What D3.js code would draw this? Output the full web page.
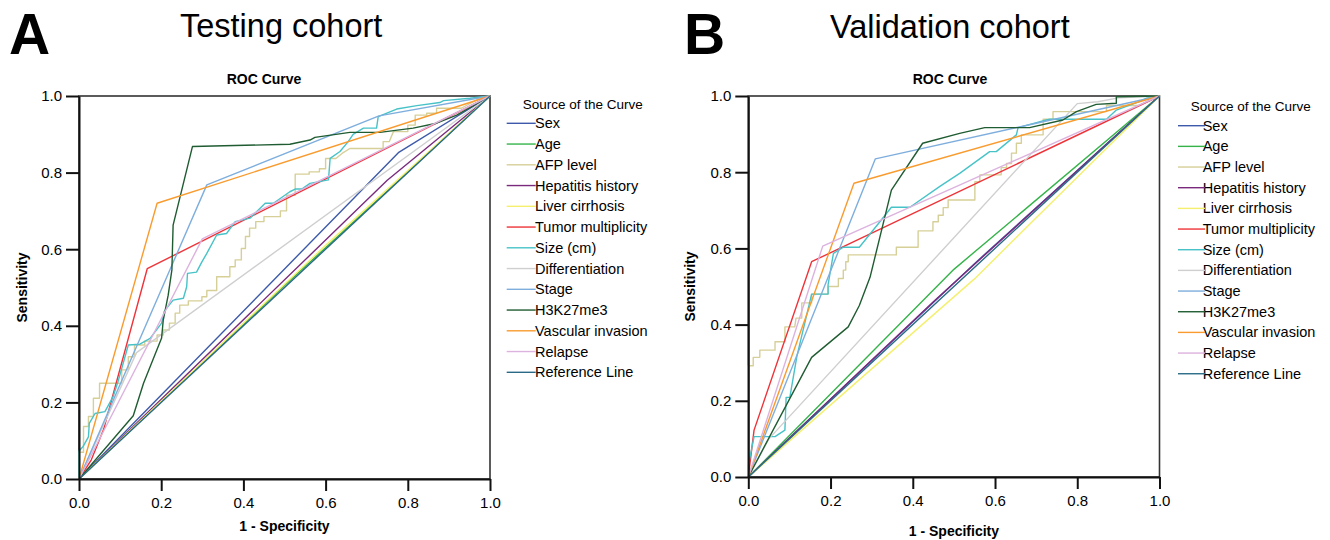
<!DOCTYPE html>
<html>
<head>
<meta charset="utf-8">
<script src="https://cdn.jsdelivr.net/npm/d3@7"></script>
<style>
  body { margin: 0; background: #fff; }
  svg { display: block; font-family: "Liberation Sans", Arial, sans-serif; }
</style>
</head>
<body>
<div id="chart"></div>
<script>
// legend / curve names, same order for both cohorts
const curveNames = ['Sex', 'Age', 'AFP level', 'Hepatitis history', 'Liver cirrhosis',
  'Tumor multiplicity', 'Size (cm)', 'Differentiation', 'Stage', 'H3K27me3',
  'Vascular invasion', 'Relapse', 'Reference Line'];
const curveColors = ['#3d5aaa', '#35b34a', '#d6cf98', '#7a2a7d', '#f4f06e',
  '#ee3339', '#47c3c8', '#cfcfcf', '#7eaedd', '#1f5c32',
  '#f99b2e', '#dcb2de', '#2a6a87'];
const tickValues = [0, 0.2, 0.4, 0.6, 0.8, 1.0];

// ---- testing cohort, [1 - specificity, sensitivity]
const testSex = [[0, 0], [0.777, 0.852], [1, 1]];
const testAge = [[0, 0], [0.5, 0.505], [1, 1]];
const testAfp = [[0, 0], [0, 0.07], [0.011, 0.07], [0.011, 0.137], [0.023, 0.137], [0.023, 0.163],
  [0.035, 0.163], [0.035, 0.211], [0.05, 0.211], [0.05, 0.25], [0.104, 0.25], [0.104, 0.285],
  [0.12, 0.285], [0.12, 0.319], [0.135, 0.319], [0.135, 0.35], [0.16, 0.35], [0.16, 0.36],
  [0.19, 0.36], [0.19, 0.376], [0.205, 0.376], [0.205, 0.389], [0.22, 0.389], [0.22, 0.407],
  [0.234, 0.407], [0.234, 0.433], [0.245, 0.433], [0.245, 0.454], [0.266, 0.454], [0.266, 0.465],
  [0.299, 0.465], [0.299, 0.476], [0.311, 0.476], [0.311, 0.492], [0.335, 0.492], [0.335, 0.528],
  [0.367, 0.528], [0.367, 0.554], [0.38, 0.554], [0.38, 0.572], [0.395, 0.572], [0.395, 0.602],
  [0.405, 0.602], [0.405, 0.633], [0.415, 0.633], [0.415, 0.655], [0.43, 0.655], [0.43, 0.672],
  [0.45, 0.672], [0.45, 0.685], [0.49, 0.685], [0.49, 0.7], [0.505, 0.7], [0.505, 0.741],
  [0.526, 0.741], [0.526, 0.796], [0.56, 0.796], [0.56, 0.802], [0.585, 0.802], [0.585, 0.81],
  [0.6, 0.81], [0.6, 0.837], [0.625, 0.837], [0.64, 0.85], [0.659, 0.863], [0.74, 0.863],
  [0.74, 0.881], [0.755, 0.881], [0.765, 0.907], [0.8, 0.907], [0.8, 0.924], [0.818, 0.924],
  [0.818, 0.95], [0.846, 0.95], [0.846, 0.955], [0.87, 0.955], [0.87, 0.968], [0.93, 0.968],
  [0.968, 0.99], [1, 1]];
const testHepatitis = [[0, 0], [0.75, 0.78], [1, 1]];
const testCirrhosis = [[0, 0], [0.6, 0.61], [1, 1]];
const testMultiplicity = [[0, 0], [0.03, 0.05], [0.06, 0.13], [0.166, 0.549], [1, 1]];
const testSize = [[0, 0], [0, 0.073], [0.01, 0.085], [0.023, 0.11], [0.025, 0.145], [0.039, 0.171],
  [0.063, 0.176], [0.083, 0.215], [0.096, 0.258], [0.12, 0.35], [0.148, 0.352], [0.173, 0.367],
  [0.201, 0.407], [0.207, 0.437], [0.229, 0.467], [0.254, 0.472], [0.262, 0.502], [0.264, 0.537],
  [0.286, 0.54], [0.299, 0.567], [0.311, 0.589], [0.335, 0.637], [0.359, 0.641], [0.38, 0.672],
  [0.416, 0.681], [0.432, 0.698], [0.453, 0.72], [0.473, 0.72], [0.513, 0.75], [0.526, 0.757],
  [0.542, 0.757], [0.562, 0.772], [0.607, 0.781], [0.611, 0.837], [0.635, 0.855], [0.655, 0.881],
  [0.667, 0.9], [0.692, 0.916], [0.724, 0.916], [0.728, 0.946], [0.773, 0.966], [0.822, 0.975],
  [0.878, 0.983], [0.887, 0.988], [0.951, 0.994], [1, 1]];
const testDifferentiation = [[0, 0], [0.14, 0.33], [1, 1]];
const testStage = [[0, 0], [0.311, 0.768], [0.73, 0.948], [1, 1]];
const testH3k27 = [[0, 0], [0.132, 0.165], [0.157, 0.25], [0.201, 0.368], [0.205, 0.415],
  [0.217, 0.48], [0.226, 0.546], [0.229, 0.663], [0.276, 0.868], [0.513, 0.874], [0.562, 0.885],
  [0.574, 0.892], [0.659, 0.905], [0.732, 0.905], [0.813, 0.916], [0.87, 0.929], [0.919, 0.95], [1, 1]];
const testVascular = [[0, 0], [0.19, 0.72], [1, 1]];
const testRelapse = [[0, 0], [0.3, 0.627], [1, 1]];
const testReference = [[0, 0], [1, 1]];

// ---- validation cohort
const valSex = [[0, 0], [0.55, 0.56], [1, 1]];
const valAge = [[0, 0], [0.5, 0.545], [1, 1]];
const valAfp = [[0, 0], [0, 0.292], [0.012, 0.292], [0.012, 0.314], [0.028, 0.314], [0.028, 0.333],
  [0.065, 0.333], [0.065, 0.355], [0.089, 0.355], [0.089, 0.394], [0.113, 0.394], [0.116, 0.417],
  [0.13, 0.417], [0.13, 0.457], [0.154, 0.457], [0.154, 0.48], [0.194, 0.48], [0.194, 0.5],
  [0.219, 0.5], [0.219, 0.521], [0.231, 0.521], [0.231, 0.543], [0.237, 0.543], [0.237, 0.565],
  [0.243, 0.565], [0.243, 0.583], [0.36, 0.583], [0.36, 0.603], [0.413, 0.603], [0.413, 0.646],
  [0.449, 0.646], [0.449, 0.67], [0.462, 0.67], [0.462, 0.687], [0.474, 0.687], [0.474, 0.707],
  [0.486, 0.707], [0.486, 0.727], [0.551, 0.727], [0.551, 0.775], [0.563, 0.775], [0.563, 0.793],
  [0.615, 0.793], [0.615, 0.812], [0.628, 0.812], [0.628, 0.823], [0.64, 0.823], [0.64, 0.85],
  [0.652, 0.85], [0.652, 0.876], [0.664, 0.876], [0.664, 0.898], [0.717, 0.898], [0.717, 0.939],
  [0.741, 0.939], [0.741, 0.959], [0.871, 0.959], [0.871, 0.975], [0.95, 0.975], [1, 1]];
const valHepatitis = [[0, 0], [0.45, 0.46], [1, 1]];
const valCirrhosis = [[0, 0], [0.55, 0.52], [1, 1]];
const valMultiplicity = [[0, 0], [0.014, 0.123], [0.154, 0.565], [1, 1]];
const valSize = [[0, 0], [0, 0.03], [0.014, 0.106], [0.065, 0.106], [0.089, 0.123], [0.092, 0.209],
  [0.101, 0.209], [0.118, 0.316], [0.154, 0.48], [0.194, 0.48], [0.194, 0.504], [0.207, 0.587],
  [0.231, 0.603], [0.27, 0.603], [0.32, 0.67], [0.348, 0.708], [0.393, 0.708], [0.465, 0.762],
  [0.514, 0.797], [0.587, 0.854], [0.603, 0.854], [0.652, 0.898], [0.656, 0.917], [0.725, 0.937],
  [0.733, 0.939], [0.871, 0.939], [0.895, 0.963], [0.951, 0.985], [0.97, 0.995], [1, 1]];
const valDifferentiation = [[0, 0], [0.05, 0.1], [0.8, 0.98], [0.85, 0.985], [0.9, 0.995], [1, 1]];
const valStage = [[0, 0], [0.309, 0.835], [1, 1]];
const valH3k27 = [[0, 0], [0.154, 0.314], [0.243, 0.394], [0.27, 0.45], [0.296, 0.524], [0.348, 0.753],
  [0.424, 0.876], [0.514, 0.902], [0.575, 0.917], [0.684, 0.917], [0.765, 0.937], [0.798, 0.959],
  [0.846, 0.978], [0.895, 0.981], [0.895, 0.998], [1, 1]];
const valVascular = [[0, 0], [0.257, 0.771], [1, 1]];
const valRelapse = [[0, 0], [0.181, 0.606], [1, 1]];
const valReference = [[0, 0], [1, 1]];

const testingCurves = [testSex, testAge, testAfp, testHepatitis, testCirrhosis, testMultiplicity,
  testSize, testDifferentiation, testStage, testH3k27, testVascular, testRelapse, testReference];
const validationCurves = [valSex, valAge, valAfp, valHepatitis, valCirrhosis, valMultiplicity,
  valSize, valDifferentiation, valStage, valH3k27, valVascular, valRelapse, valReference];

const FONT = '"Liberation Sans", Arial, sans-serif';

const panels = [
  { letter: 'A', title: 'Testing cohort', curves: testingCurves,
    left: 79, right: 490, top: 96, bottom: 479,
    letterX: 9, titleX: 180, titleY: 37, rocX: 264, ylabX: 22, xlabY: 531,
    legTitleX: 522.7, legTitleY: 104, legLineX: 506.7, legLineW: 29, legTextX: 535,
    legY0: 123.3, legStep: 20.75 },
  { letter: 'B', title: 'Validation cohort', curves: validationCurves,
    left: 748.3, right: 1159.5, top: 96, bottom: 477,
    letterX: 684, titleX: 830, titleY: 38, rocX: 950, ylabX: 690, xlabY: 536,
    legTitleX: 1190.7, legTitleY: 106, legLineX: 1178, legLineW: 27, legTextX: 1202.7,
    legY0: 125.7, legStep: 20.67 }
];

const svg = d3.select('#chart').append('svg')
  .attr('width', 1330)
  .attr('height', 540);

panels.forEach(p => {
  const x = d3.scaleLinear().domain([0, 1]).range([p.left, p.right]);
  const y = d3.scaleLinear().domain([0, 1]).range([p.bottom, p.top]);
  const g = svg.append('g');

  // big panel letter and cohort title
  g.append('text').attr('x', p.letterX).attr('y', 53.5)
    .attr('font-size', 57).attr('font-weight', 'bold').text(p.letter);
  g.append('text').attr('x', p.titleX).attr('y', p.titleY)
    .attr('font-size', 32.5).text(p.title);
  g.append('text').attr('x', p.rocX).attr('y', 84).attr('text-anchor', 'middle')
    .attr('font-size', 14).attr('font-weight', 'bold').text('ROC Curve');

  // frame
  g.append('rect')
    .attr('x', p.left).attr('y', p.top)
    .attr('width', p.right - p.left).attr('height', p.bottom - p.top)
    .attr('fill', 'none').attr('stroke', '#333').attr('stroke-width', 1.6);

  // curves
  const line = d3.line().x(d => x(d[0])).y(d => y(d[1]));
  g.append('g').selectAll('path')
    .data(p.curves)
    .join('path')
      .attr('d', line)
      .attr('fill', 'none')
      .attr('stroke', (d, i) => curveColors[i])
      .attr('stroke-width', 1.4)
      .attr('stroke-linejoin', 'round');

  // axes
  const yAxis = g.append('g')
    .attr('transform', `translate(${p.left},0)`)
    .call(d3.axisLeft(y).tickValues(tickValues).tickFormat(d3.format('.1f'))
      .tickSize(13).tickSizeOuter(0).tickPadding(4));
  const xAxis = g.append('g')
    .attr('transform', `translate(0,${p.bottom})`)
    .call(d3.axisBottom(x).tickValues(tickValues).tickFormat(d3.format('.1f'))
      .tickSize(12).tickSizeOuter(0).tickPadding(6));
  [yAxis, xAxis].forEach(a => {
    a.attr('font-family', FONT).attr('font-size', 15);
    a.select('.domain').attr('stroke', '#111').attr('stroke-width', 2);
    a.selectAll('.tick line').attr('stroke', '#111').attr('stroke-width', 2);
    a.selectAll('.tick text').attr('fill', '#000');
  });

  // axis titles
  g.append('text')
    .attr('transform', `translate(${p.ylabX},${(p.top + p.bottom) / 2}) rotate(-90)`)
    .attr('text-anchor', 'middle').attr('dy', '0.35em')
    .attr('font-size', 14).attr('font-weight', 'bold').text('Sensitivity');
  g.append('text').attr('x', (p.left + p.right) / 2).attr('y', p.xlabY)
    .attr('text-anchor', 'middle')
    .attr('font-size', 14).attr('font-weight', 'bold').text('1 - Specificity');

  // legend
  const leg = g.append('g');
  leg.append('text').attr('x', p.legTitleX).attr('y', p.legTitleY).attr('dy', '0.35em')
    .attr('font-size', 13.5).text('Source of the Curve');
  const items = leg.selectAll('g.item')
    .data(curveNames)
    .join('g')
      .attr('class', 'item')
      .attr('transform', (d, i) => `translate(0,${p.legY0 + i * p.legStep})`);
  items.append('text').attr('x', p.legTextX).attr('dy', '0.35em')
    .attr('font-size', 14.5).text(d => d);
  items.append('line')
    .attr('x1', p.legLineX).attr('x2', p.legLineX + p.legLineW)
    .attr('stroke', (d, i) => curveColors[i]).attr('stroke-width', 1.4);
});
</script>
</body>
</html>
